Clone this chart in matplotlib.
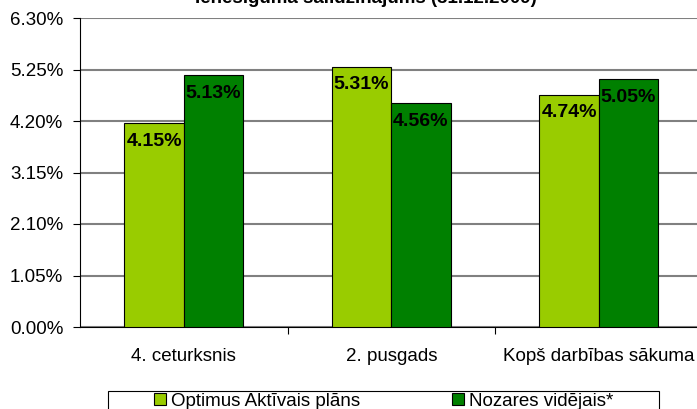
import matplotlib.pyplot as plt
from matplotlib.patches import Rectangle, Patch
import numpy as np

plt.rcParams['font.family'] = ['Liberation Sans', 'DejaVu Sans']

title = 'Ienesīguma salīdzinājums (31.12.2009)'
categories = ['4. ceturksnis', '2. pusgads', 'Kopš darbības sākuma']
optimus = [4.15, 5.31, 4.74]
nozares = [5.13, 4.56, 5.05]
series_names = ['Optimus Aktīvais plāns', 'Nozares vidējais*']
yticks = [0.0, 1.05, 2.10, 3.15, 4.20, 5.25, 6.30]

c_light = '#99CC00'
c_dark = '#008000'

fig = plt.figure(figsize=(6.97, 4.09), dpi=100)
W, H = 697, 409
ax = fig.add_axes([80 / W, (H - 327) / H, 622.5 / W, 309 / H])

x = np.arange(len(categories))
w = 1 / 3.5
b1 = ax.bar(x - w / 2, optimus, w, color=c_light, edgecolor='black', linewidth=0.8, zorder=3)
b2 = ax.bar(x + w / 2, nozares, w, color=c_dark, edgecolor='black', linewidth=0.8, zorder=3)

for bars, vals in ((b1, optimus), (b2, nozares)):
    for r, v in zip(bars, vals):
        ax.annotate('%.2f%%' % v, (r.get_x() + r.get_width() / 2, v), xytext=(0, -7),
                    textcoords='offset points', ha='center', va='top',
                    fontsize=14, fontweight='bold', zorder=4)

ax.set_xlim(-0.5, 2.5)
ax.set_ylim(0, 6.30)
ax.set_yticks(yticks)
ax.set_yticklabels(['%.2f%%' % t for t in yticks], fontsize=13.5)
ax.yaxis.grid(True, color='#808080', linewidth=1.5, zorder=0)
ax.tick_params(axis='y', length=5, width=0.8, pad=7)

ax.set_xticks(x)
ax.set_xticklabels(categories, fontsize=13.5)
ax.tick_params(axis='x', which='major', length=0, pad=15)
ax.set_xticks([0.5, 1.5], minor=True)
ax.tick_params(axis='x', which='minor', length=5, width=0.8)

for s in ('top', 'right'):
    ax.spines[s].set_visible(False)
ax.spines['left'].set_linewidth(0.8)
ax.spines['bottom'].set_linewidth(0.8)

fig.text(366 / W, 1 + 2 / H, title, ha='center', va='center', fontsize=13.5, fontweight='bold')

# legend box, running off the bottom edge
fig.patches.append(Rectangle((108 / W, -0.05), 551 / W, 0.05 + (H - 391) / H,
                             transform=fig.transFigure, facecolor='white',
                             edgecolor='black', linewidth=0.8))
handles = [Patch(facecolor=c_light, edgecolor='black', linewidth=0.8),
           Patch(facecolor=c_dark, edgecolor='black', linewidth=0.8)]
fig.legend(handles, series_names, loc='center', ncol=2, frameon=False,
           bbox_to_anchor=(384 / W, (H - 401) / H), fontsize=13.5,
           handlelength=0.6, handleheight=0.6, handletextpad=0.3,
           columnspacing=4.9, borderpad=0)

fig.savefig('out.png', dpi=100)
